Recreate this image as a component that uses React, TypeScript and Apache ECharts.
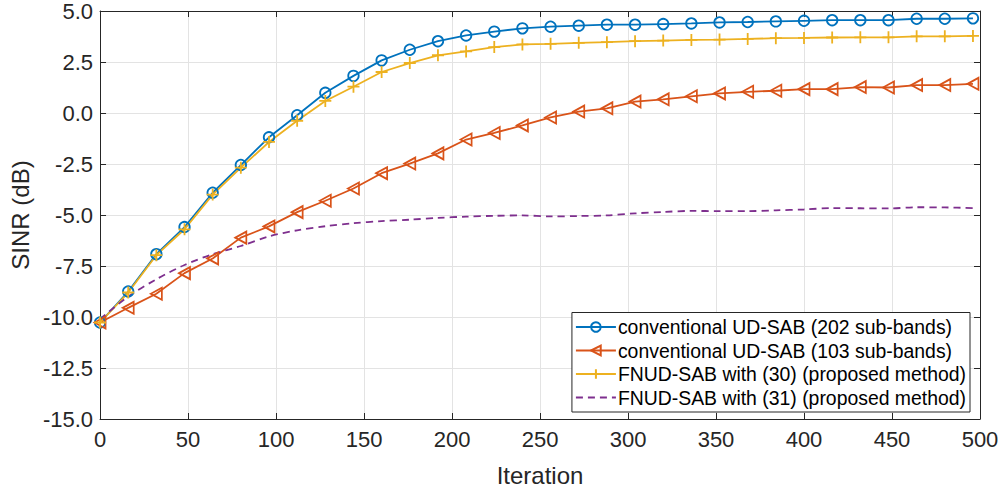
import React, { useEffect, useRef } from "react";
import * as echarts from "echarts";

const ITER = [0, 16, 32, 48, 64, 80, 96, 112, 128, 144, 160, 176, 192, 208, 224, 240, 256, 272, 288, 304, 320, 336, 352, 368, 384, 400, 416, 432, 448, 464, 480, 496];

const UD202 = [-10.27, -8.75, -6.92, -5.59, -3.91, -2.55, -1.19, -0.11, 0.99, 1.82, 2.58, 3.10, 3.52, 3.80, 3.99, 4.15, 4.23, 4.28, 4.33, 4.33, 4.36, 4.39, 4.44, 4.46, 4.49, 4.52, 4.55, 4.55, 4.55, 4.62, 4.62, 4.64];
const UD103 = [-10.27, -9.55, -8.86, -7.85, -7.13, -6.11, -5.56, -4.86, -4.30, -3.70, -2.95, -2.48, -1.98, -1.30, -0.98, -0.61, -0.22, 0.07, 0.23, 0.56, 0.67, 0.82, 0.96, 1.04, 1.09, 1.17, 1.17, 1.27, 1.25, 1.37, 1.37, 1.43];
const FNUD30 = [-10.27, -8.8, -6.97, -5.7, -4.0, -2.68, -1.42, -0.38, 0.59, 1.29, 2.01, 2.45, 2.83, 3.02, 3.23, 3.36, 3.39, 3.44, 3.47, 3.52, 3.55, 3.58, 3.60, 3.63, 3.67, 3.68, 3.70, 3.71, 3.71, 3.76, 3.76, 3.78];
const FNUD31 = [-10.1, -9.0, -8.15, -7.45, -6.92, -6.52, -6.05, -5.75, -5.55, -5.40, -5.30, -5.23, -5.14, -5.08, -5.04, -5.02, -5.07, -5.05, -5.02, -4.92, -4.85, -4.80, -4.81, -4.81, -4.77, -4.73, -4.66, -4.67, -4.68, -4.62, -4.63, -4.66];

const NAMES = [
  "conventional UD-SAB (202 sub-bands)",
  "conventional UD-SAB (103 sub-bands)",
  "FNUD-SAB with (30) (proposed method)",
  "FNUD-SAB with (31) (proposed method)",
];

const FONT = "'Liberation Sans', Arial, Helvetica, sans-serif";
const AX = "#262626";

export default function App() {
  const ref = useRef<HTMLDivElement>(null);
  useEffect(() => {
    document.body.style.margin = "0";
    const chart = echarts.init(ref.current!, null, { renderer: "svg" });
    const pts = (ys: number[]) => ITER.map((x, i) => [x, ys[i]]);
    const common = {
      type: "line",
      showAllSymbol: true,
      z: 3,
    };
    chart.setOption({
      animation: false,
      backgroundColor: "#ffffff",
      textStyle: { fontFamily: FONT },
      grid: { left: 100, right: 25, top: 8.5, bottom: 71, containLabel: false },
      xAxis: [
        {
          type: "value",
          min: 0,
          max: 500,
          interval: 50,
          name: "Iteration",
          nameLocation: "middle",
          nameGap: 44,
          nameTextStyle: { fontSize: 24, color: AX, fontFamily: FONT },
          axisLine: { show: true, onZero: false, lineStyle: { color: AX, width: 1 } },
          axisTick: { show: true, inside: true, length: 6, lineStyle: { color: AX } },
          axisLabel: { fontSize: 22, color: AX, margin: 9, fontFamily: FONT },
          splitLine: { show: true, lineStyle: { color: "#e3e3e3", width: 1 } },
        },
        {
          type: "value",
          position: "top",
          min: 0,
          max: 500,
          interval: 50,
          axisLine: { show: true, onZero: false, lineStyle: { color: AX, width: 1 } },
          axisTick: { show: true, inside: true, length: 6, lineStyle: { color: AX } },
          axisLabel: { show: false },
          splitLine: { show: false },
        },
      ],
      yAxis: [
        {
          type: "value",
          min: -15,
          max: 5,
          interval: 2.5,
          name: "SINR (dB)",
          nameLocation: "middle",
          nameGap: 64,
          nameTextStyle: { fontSize: 24, color: AX, fontFamily: FONT },
          axisLine: { show: true, onZero: false, lineStyle: { color: AX, width: 1 } },
          axisTick: { show: true, inside: true, length: 6, lineStyle: { color: AX } },
          axisLabel: {
            fontSize: 22,
            color: AX,
            margin: 7,
            fontFamily: FONT,
            formatter: (v: number) => v.toFixed(1),
          },
          splitLine: { show: true, lineStyle: { color: "#e3e3e3", width: 1 } },
        },
        {
          type: "value",
          position: "right",
          min: -15,
          max: 5,
          interval: 2.5,
          axisLine: { show: true, onZero: false, lineStyle: { color: AX, width: 1 } },
          axisTick: { show: true, inside: true, length: 6, lineStyle: { color: AX } },
          axisLabel: { show: false },
          splitLine: { show: false },
        },
      ],
      legend: {
        orient: "vertical",
        right: 35,
        bottom: 80,
        backgroundColor: "#ffffff",
        borderColor: AX,
        borderWidth: 1,
        borderRadius: 0,
        padding: [5, 4, 5, 3],
        itemWidth: 40,
        itemHeight: 12,
        itemGap: 4.5,
        textStyle: { fontSize: 19.4, color: "#000", fontFamily: FONT, padding: [0, 0, 0, -3] },
        data: [
          NAMES[0],
          NAMES[1],
          NAMES[2],
          { name: NAMES[3], itemStyle: { color: "none", borderWidth: 0, opacity: 0 } },
        ],
      },
      series: [
        {
          ...common,
          name: NAMES[0],
          data: pts(UD202),
          symbol: "circle",
          symbolSize: 10.5,
          itemStyle: { color: "none", borderColor: "#0072BD", borderWidth: 1.8 },
          lineStyle: { color: "#0072BD", width: 1.8 },
        },
        {
          ...common,
          name: NAMES[1],
          data: pts(UD103),
          symbol: "path://M0,5L10,0L10,10Z",
          symbolSize: [11, 12],
          itemStyle: { color: "none", borderColor: "#D95319", borderWidth: 1.8 },
          lineStyle: { color: "#D95319", width: 1.8 },
        },
        {
          ...common,
          name: NAMES[2],
          data: pts(FNUD30),
          symbol: "path://M5,0L5,10M0,5L10,5",
          symbolSize: 12,
          itemStyle: { color: "none", borderColor: "#EDB120", borderWidth: 1.8 },
          lineStyle: { color: "#EDB120", width: 1.8 },
        },
        {
          ...common,
          name: NAMES[3],
          data: pts(FNUD31),
          symbol: "none",
          smooth: 0.3,
          itemStyle: { color: "#7E2F8E" },
          lineStyle: { color: "#7E2F8E", width: 1.8, type: [7, 5] },
        },
      ],
    });
    return () => chart.dispose();
  }, []);
  return <div ref={ref} style={{ width: 1005, height: 492 }} />;
}
